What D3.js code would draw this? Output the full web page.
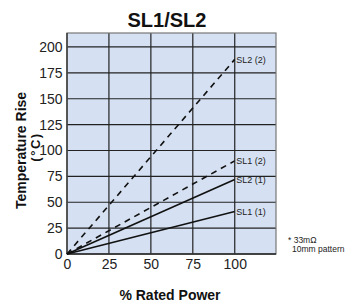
<!DOCTYPE html>
<html><head><meta charset="utf-8">
<script src="https://cdn.jsdelivr.net/npm/d3@7"></script>
<style>body{margin:0;background:#fff;}svg{display:block;font-family:"Liberation Sans",Arial,sans-serif;}</style>
</head><body>
<script>
const title = "SL1/SL2";
const xTicks = [0, 25, 50, 75, 100];
const yTicks = [0, 25, 50, 75, 100, 125, 150, 175, 200];
const seriesNames = ["SL2 (2)", "SL1 (2)", "SL2 (1)", "SL1 (1)"];
const seriesDashed = [true, true, false, false];
const xValues = [0, 100];
const sl2_2 = [0, 188];
const sl1_2 = [0, 90];
const sl2_1 = [0, 72];
const sl1_1 = [0, 41];
const seriesValues = [sl2_2, sl1_2, sl2_1, sl1_1];
const footnote = ["* 33mΩ", "10mm pattern"];

(function () {
const W = 349, H = 303;
const svg = d3.select("body").append("svg").attr("width", W).attr("height", H);
const pL = 67, pR = 276, pT = 33, pB = 254;
const x = d3.scaleLinear().domain([0, 124.6]).range([pL, pR]);
const y = d3.scaleLinear().domain([0, 213.5]).range([pB, pT]);

svg.append("rect").attr("x", pL).attr("y", pT).attr("width", pR - pL).attr("height", pB - pT)
  .attr("fill", "#d5e1f2");

// grid
svg.append("g").selectAll("line").data(xTicks.filter(d => d > 0)).join("line")
  .attr("x1", d => x(d)).attr("x2", d => x(d)).attr("y1", pT).attr("y2", pB)
  .attr("stroke", "#222").attr("stroke-width", 1.2);
svg.append("g").selectAll("line").data(yTicks.filter(d => d > 0)).join("line")
  .attr("x1", pL).attr("x2", pR).attr("y1", d => y(d)).attr("y2", d => y(d))
  .attr("stroke", "#222").attr("stroke-width", 1.2);

// border
svg.append("rect").attr("x", pL).attr("y", pT).attr("width", pR - pL).attr("height", pB - pT)
  .attr("fill", "none").attr("stroke", "#777").attr("stroke-width", 1.2);
svg.append("line").attr("x1", pL).attr("x2", pR).attr("y1", pB).attr("y2", pB).attr("stroke", "#222").attr("stroke-width", 1.4);
svg.append("line").attr("x1", pL).attr("x2", pL).attr("y1", pT).attr("y2", pB).attr("stroke", "#333").attr("stroke-width", 1.4);

// axes (labels only)
const yAxis = svg.append("g").attr("transform", `translate(${pL},0)`)
  .call(d3.axisLeft(y).tickValues(yTicks).tickSize(0).tickPadding(4.5));
yAxis.select(".domain").remove();
yAxis.selectAll("text").attr("font-size", 14).attr("fill", "#222").attr("font-family", "Liberation Sans, Arial, sans-serif");
const xAxis = svg.append("g").attr("transform", `translate(0,${pB})`)
  .call(d3.axisBottom(x).tickValues(xTicks).tickSize(0).tickPadding(5.5));
xAxis.select(".domain").remove();
xAxis.selectAll("text").attr("font-size", 14).attr("fill", "#222").attr("font-family", "Liberation Sans, Arial, sans-serif");

// lines
const line = d3.line().x((d, i) => x(xValues[i])).y(d => y(d));
seriesValues.forEach((vals, k) => {
  svg.append("path").attr("d", line(vals)).attr("fill", "none").attr("stroke", "#111")
    .attr("stroke-width", 1.6).attr("stroke-dasharray", seriesDashed[k] ? "6,5" : null);
  svg.append("text").attr("x", x(xValues[xValues.length - 1]) + 1.5).attr("y", y(vals[vals.length - 1]))
    .attr("dy", "0.35em").attr("font-size", 9).attr("fill", "#222").text(seriesNames[k]);
});

// title
svg.append("text").attr("x", 167).attr("y", 27).attr("text-anchor", "middle")
  .attr("font-size", 20).attr("font-weight", "bold").attr("fill", "#111").text(title);

// axis titles
svg.append("text").attr("transform", "translate(26,150.5) rotate(-90)").attr("text-anchor", "middle")
  .attr("font-size", 14).attr("font-weight", "bold").attr("fill", "#111").text("Temperature Rise");
svg.append("text").attr("transform", "translate(39.5,147) rotate(-90)").attr("text-anchor", "middle")
  .attr("font-size", 13).attr("font-weight", "bold").attr("letter-spacing", 1.5).attr("fill", "#111").text("(°C)");
svg.append("text").attr("x", 170).attr("y", 300).attr("text-anchor", "middle")
  .attr("font-size", 14).attr("font-weight", "bold").attr("fill", "#111").text("% Rated Power");

// footnote
svg.append("text").attr("x", 288).attr("y", 242.5).attr("font-size", 8.5).attr("fill", "#222").text(footnote[0]);
svg.append("text").attr("x", 292).attr("y", 252).attr("font-size", 8.5).attr("fill", "#222").text(footnote[1]);
})();
</script>
</body></html>
